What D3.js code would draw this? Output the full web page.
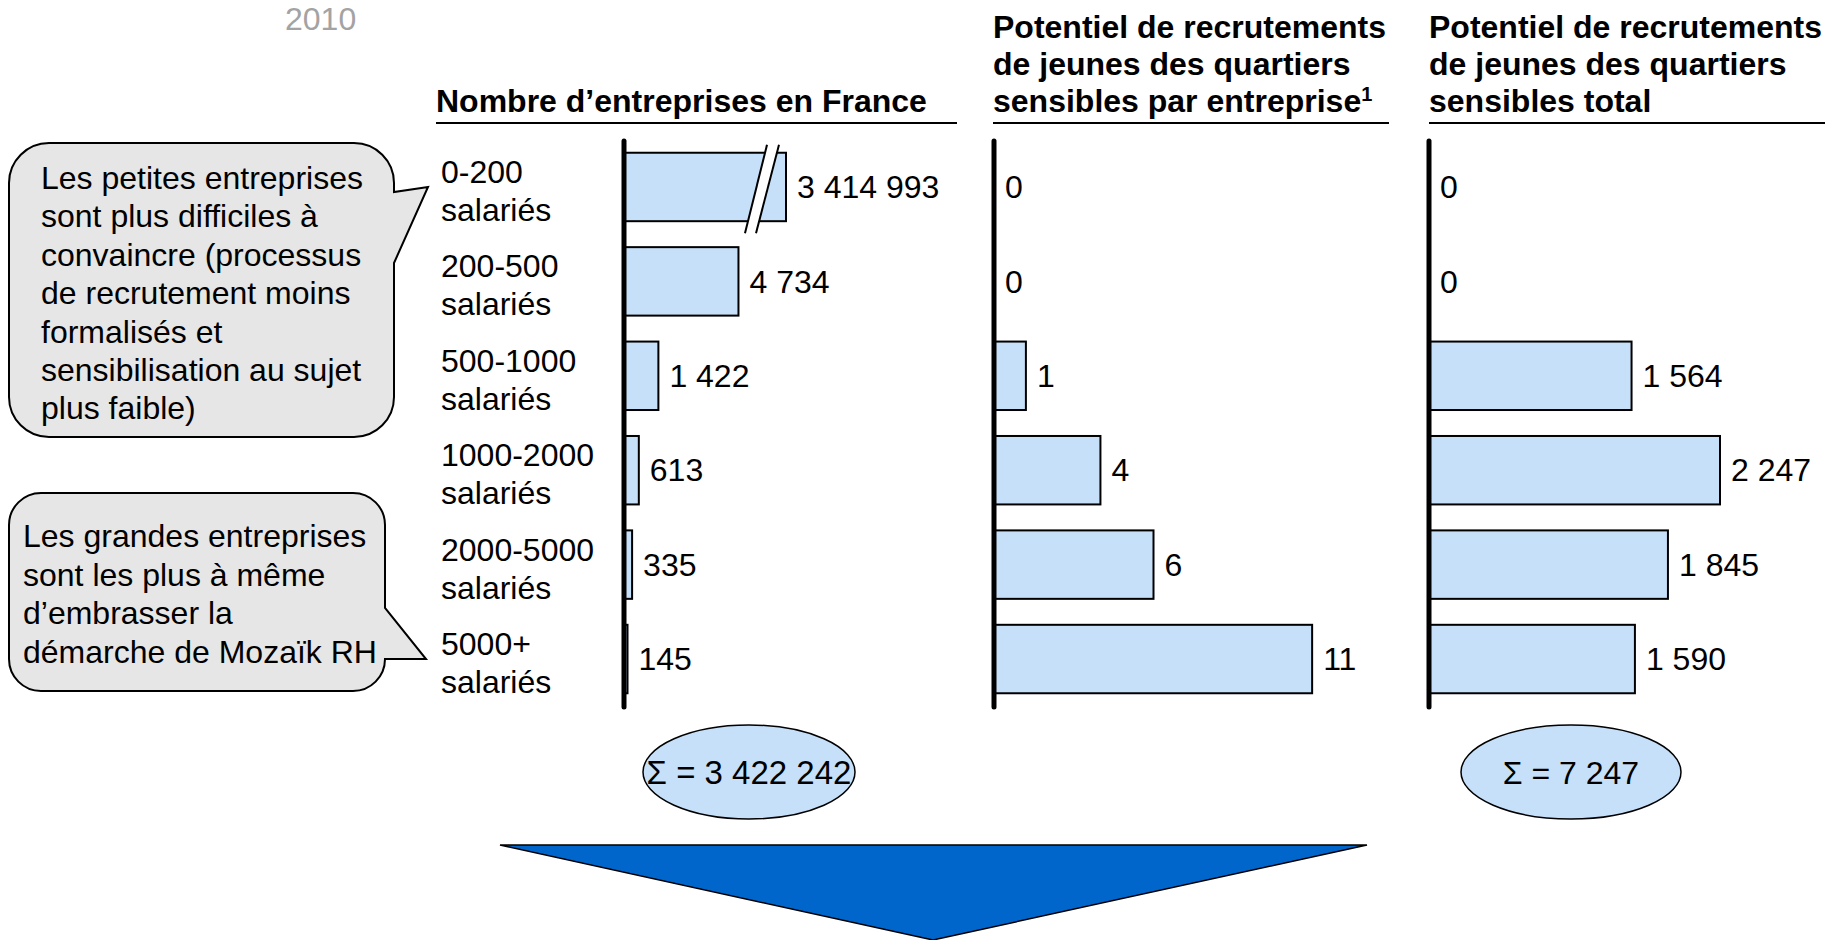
<!DOCTYPE html>
<html>
<head>
<meta charset="utf-8">
<title>Potentiel de recrutements</title>
<script src="https://d3js.org/d3.v7.min.js"></script>
<style>
html, body {
  margin: 0;
  background: #fff;
}
svg {
  display: block;
  font-family: "Liberation Sans", Arial, Helvetica, sans-serif;
}
.title {
  font-size: 32px;
  font-weight: bold;
  fill: #000;
}
.lbl {
  font-size: 32px;
  fill: #000;
}
.bar {
  fill: #c7e0f9;
  stroke: #000;
  stroke-width: 2px;
}
.axis-line {
  stroke: #000;
  stroke-width: 5px;
  stroke-linecap: round;
}
.bubble {
  fill: #e6e6e6;
  stroke: #000;
  stroke-width: 2px;
}
</style>
</head>
<body>
<svg width="1825" height="940"></svg>

<script>
// data
var categories = ["0-200", "200-500", "500-1000", "1000-2000", "2000-5000", "5000+"];
var unitLabel = "salariés";
var nbEntreprises = [3414993, 4734, 1422, 613, 335, 145];
var recrutParEntreprise = [0, 0, 1.1, 3.67, 5.5, 10.97];
var recrutParEntrepriseLabels = ["0", "0", "1", "4", "6", "11"];
var recrutTotal = [0, 0, 1564, 2247, 1845, 1590];
var sommes = [3422242, 7247];

var titles = [
  ["Nombre d’entreprises en France"],
  ["Potentiel de recrutements", "de jeunes des quartiers", "sensibles par entreprise"],
  ["Potentiel de recrutements", "de jeunes des quartiers", "sensibles total"]
];
var yearLabel = "2010";
var bubble1 = ["Les petites entreprises", "sont plus difficiles à", "convaincre (processus",
  "de recrutement moins", "formalisés et", "sensibilisation au sujet", "plus faible)"];
var bubble2 = ["Les grandes entreprises", "sont les plus à même", "d’embrasser la",
  "démarche de Mozaïk RH"];

var fr = d3.formatLocale({decimal: ",", thousands: " ", grouping: [3], currency: ["", " €"]});
var fmt = fr.format(",d");

var svg = d3.select("svg");

svg.append("text")
    .attr("x", 285).attr("y", 30)
    .attr("class", "lbl")
    .style("fill", "#a3a3a3")
    .text(yearLabel);

var y = d3.scaleBand()
    .domain(categories)
    .range([140, 706])
    .paddingInner(0.275)
    .paddingOuter(0.135);

// first column is cut (broken bar), clamp keeps the huge value on the page
var x1 = d3.scaleLinear().domain([0, 6700]).range([0, 162]).clamp(true);
var x2 = d3.scaleLinear().domain([0, 11]).range([0, 319]);
var x3 = d3.scaleLinear().domain([0, 2247]).range([0, 291]);

var panels = [
  {x0: 624, tx: 436, tx1: 957, values: nbEntreprises, labels: nbEntreprises.map(fmt), x: x1, title: titles[0]},
  {x0: 994, tx: 993, tx1: 1389, values: recrutParEntreprise, labels: recrutParEntrepriseLabels, x: x2, title: titles[1]},
  {x0: 1429, tx: 1429, tx1: 1825, values: recrutTotal, labels: recrutTotal.map(fmt), x: x3, title: titles[2]}
];

panels.forEach(function(p, pi) {
  var g = svg.append("g");

  // title
  var n = p.title.length;
  p.title.forEach(function(line, i) {
    var t = g.append("text")
        .attr("class", "title")
        .attr("x", p.tx)
        .attr("y", 112 - (n - 1 - i) * 37)
        .text(line);
    if (pi == 1 && i == n - 1) {
      t.append("tspan").attr("dy", -11).style("font-size", "20px").text("1");
    }
  });
  g.append("line")
      .attr("x1", p.tx).attr("x2", p.tx1)
      .attr("y1", 123).attr("y2", 123)
      .attr("stroke", "#000").attr("stroke-width", 2);

  var rows = categories.map(function(c, i) {
    return {cat: c, v: p.values[i], label: p.labels[i]};
  });

  g.selectAll(".bar")
    .data(rows.filter(function(d) { return d.v > 0; }))
    .enter().append("rect")
      .attr("class", "bar")
      .attr("x", p.x0)
      .attr("y", function(d) { return y(d.cat); })
      .attr("width", function(d) { return p.x(d.v); })
      .attr("height", y.bandwidth());

  g.selectAll(".val")
    .data(rows)
    .enter().append("text")
      .attr("class", "lbl")
      .attr("x", function(d) { return p.x0 + p.x(d.v) + 11; })
      .attr("y", function(d) { return y(d.cat) + y.bandwidth() / 2; })
      .attr("dy", "0.35em")
      .text(function(d) { return d.label; });

  // break marker on the clamped bar
  if (pi == 0) {
    rows.forEach(function(d) {
      if (d.v > x1.domain()[1]) {
        var end = p.x0 + x1(d.v), t = y(d.cat) - 8, b = y(d.cat) + y.bandwidth() + 12;
        g.append("polygon")
            .attr("points", [[end - 19, t], [end - 7, t], [end - 30, b], [end - 41, b]].join(" "))
            .attr("fill", "#fff");
        g.append("line").attr("x1", end - 19).attr("y1", t).attr("x2", end - 41).attr("y2", b)
            .attr("stroke", "#000").attr("stroke-width", 2);
        g.append("line").attr("x1", end - 7).attr("y1", t).attr("x2", end - 30).attr("y2", b)
            .attr("stroke", "#000").attr("stroke-width", 2);
      }
    });
  }

  g.append("line")
      .attr("class", "axis-line")
      .attr("x1", p.x0).attr("x2", p.x0)
      .attr("y1", 141).attr("y2", 707);
});

// category labels
var cat = svg.selectAll(".cat")
  .data(categories)
  .enter().append("text")
    .attr("class", "lbl")
    .attr("x", 441)
    .attr("y", function(d) { return y(d) + y.bandwidth() / 2 - 4; });
cat.append("tspan").text(function(d) { return d; });
cat.append("tspan").attr("x", 441).attr("dy", 38).text(unitLabel);

// callouts
function bubblePath(x0, y0, x1, y1, r, pTop, tip, pBot) {
  return "M" + (x0 + r) + "," + y0 +
    "H" + (x1 - r) +
    "A" + r + "," + r + " 0 0 1 " + x1 + "," + (y0 + r) +
    "V" + pTop +
    "L" + tip[0] + "," + tip[1] +
    "L" + x1 + "," + pBot +
    "V" + (y1 - r) +
    "A" + r + "," + r + " 0 0 1 " + (x1 - r) + "," + y1 +
    "H" + (x0 + r) +
    "A" + r + "," + r + " 0 0 1 " + x0 + "," + (y1 - r) +
    "V" + (y0 + r) +
    "A" + r + "," + r + " 0 0 1 " + (x0 + r) + "," + y0 + "Z";
}

svg.append("path").attr("class", "bubble")
    .attr("d", bubblePath(9, 143, 394, 437, 40, 192, [428, 187], 263));
svg.selectAll(".b1")
  .data(bubble1)
  .enter().append("text")
    .attr("class", "lbl")
    .attr("x", 41)
    .attr("y", function(d, i) { return 189 + i * 38.4; })
    .text(function(d) { return d; });

svg.append("path").attr("class", "bubble")
    .attr("d", bubblePath(9, 493, 385, 691, 32, 608, [426, 659], 659));
svg.selectAll(".b2")
  .data(bubble2)
  .enter().append("text")
    .attr("class", "lbl")
    .attr("x", 23)
    .attr("y", function(d, i) { return 547 + i * 38.6; })
    .text(function(d) { return d; });

// sums
var sumPos = [[749, 772], [1571, 772]];
var sumRx = [106, 110];
sommes.forEach(function(s, i) {
  svg.append("ellipse")
      .attr("cx", sumPos[i][0]).attr("cy", sumPos[i][1])
      .attr("rx", sumRx[i]).attr("ry", 47)
      .attr("fill", "#c7e0f9").attr("stroke", "#000").attr("stroke-width", 1.5);
  svg.append("text")
      .attr("class", "lbl")
      .attr("x", sumPos[i][0]).attr("y", sumPos[i][1] + 12)
      .attr("text-anchor", "middle")
      .style("font-size", i == 0 ? "33px" : "32px")
      .text("Σ = " + fmt(s));
});

// big arrow
svg.append("polygon")
    .attr("points", "500,845 1367,845 933,940")
    .attr("fill", "#0066cc")
    .attr("stroke", "#000")
    .attr("stroke-width", 1.5);
</script>
</body>
</html>
